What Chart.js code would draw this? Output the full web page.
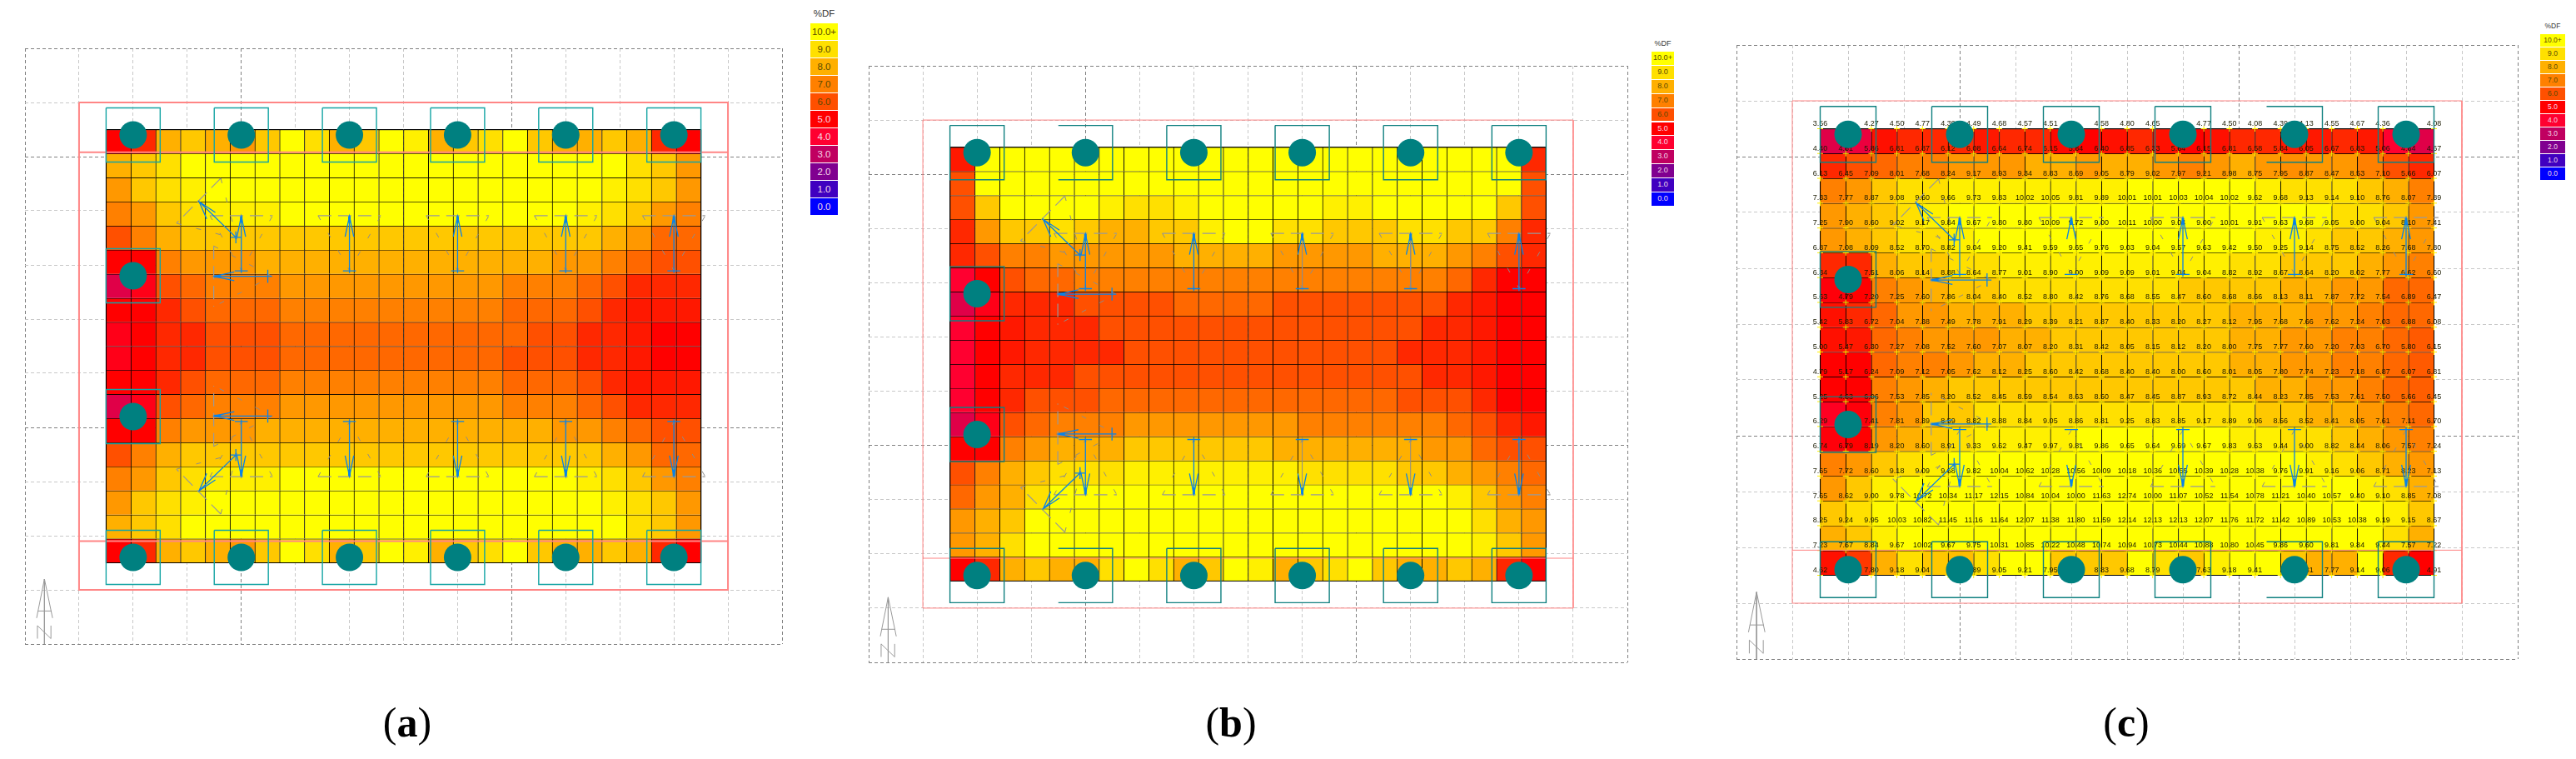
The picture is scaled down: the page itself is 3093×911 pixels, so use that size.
<!DOCTYPE html>
<html>
<head>
<meta charset="utf-8">
<title>Daylight factor plans</title>
<script src="https://cdn.jsdelivr.net/npm/chart.js@4"></script>
<style>
    html, body { margin: 0; padding: 0; background: #fff; }
    body { position: relative; width: 3093px; height: 911px; overflow: hidden; }
    canvas { position: absolute; }
    .swatch { position: absolute; text-align: center; font-family: "Liberation Sans", sans-serif; }
    .legend-title { position: absolute; text-align: center; font-family: "Liberation Sans", sans-serif; color: #333; }
    .caption { position: absolute; top: 838px; width: 120px; text-align: center; font: 50px "Liberation Serif", serif; color: #000; }
</style>
</head>
<body>
<script>
// legend
const scaleLevels = [10, 9, 8, 7, 6, 5, 4, 3, 2, 1, 0];
const scaleLabels = ["10.0+", "9.0", "8.0", "7.0", "6.0", "5.0", "4.0", "3.0", "2.0", "1.0", "0.0"];
const scaleColors = ["#ffff00", "#ffe000", "#ffb000", "#ff8000", "#ff5000", "#ff0000", "#ff0030", "#c00060", "#800090", "#4000c0", "#0000ff"];

const cellsA = [
    [5,5.5,8,8.5,8,7.5,8.5,10,9,8,8.5,10,9.5,8,8.5,9,10,8.5,8,8,8.5,8,5.5,5],
    [8,8.5,9,10,10,10,10,10,10,10,10,10,10,10,10,10,10,10,10,10,10,9,8.5,7.5],
    [7.5,8.5,9,9.5,10,10,10,10,10,10,10,10,10,10,10,10,10,10,10,10,9.5,9,8.5,7.5],
    [7,7.5,8.5,9,9.5,9.5,9.5,10,10,10,10,10,10,10,10,10,10,10,10,9.5,9,8.5,7.5,7],
    [6,7,8,8.5,8.5,8.5,8.5,8.5,8.5,8.5,8.5,8.5,8.5,8.5,8.5,8.5,8.5,8.5,8.5,8.5,8,7.5,6.5,6.5],
    [5,5,7,7.5,7.5,7.5,8,8,8,8,8,8,8,8,8,8,8,8,7.5,7.5,7,6.5,6,6],
    [3.5,4.5,6,6.5,7,7,7,7.5,7.5,7.5,7.5,7.5,7.5,7.5,7.5,7.5,7,7,7,6.5,6,5.5,5.5,5.5],
    [5,5,5.5,6,6.5,6.5,6.5,7,7,7,7,7,7,7,7,7,6.5,6.5,6.5,6,5.5,5.3,5.3,5.3],
    [4.5,5,5.5,5.5,6,6,6,6.5,6.5,6.5,6.5,6.5,6.5,6.5,6.5,6.5,6.5,6,6,5.5,5.5,5.3,5,5],
    [4.5,5,5.5,5.5,6,6,6,6.5,6.5,6.5,6.5,6.5,6.5,6.5,6.5,6.5,6,6,6,5.5,5.5,5.3,5,5],
    [5,5,5.5,6,6.5,6.5,6.5,7,7,7,7,7,7,7,7,7,6.5,6.5,6.5,6,5.5,5.3,5.3,5.3],
    [3.5,4.5,6,6.5,7,7,7,7.5,7.5,7.5,7.5,7.5,7.5,7.5,7.5,7.5,7,7,7,6.5,6,5.5,5.5,5.5],
    [5,5,7,7.5,7.5,7.5,8,8,8,8,8,8,8,8,8,8,8,8,7.5,7.5,7,6.5,6,6],
    [6,7,8,8.5,8.5,8.5,8.5,8.5,8.5,8.5,8.5,8.5,8.5,8.5,8.5,8.5,8.5,8.5,8.5,8.5,8,7.5,6.5,6.5],
    [7,7.5,8.5,9,9.5,9.5,9.5,10,10,10,10,10,10,10,10,10,10,10,10,9.5,9,8.5,7.5,7],
    [7.5,8.5,9,9.5,10,10,10,10,10,10,10,10,10,10,10,10,10,10,10,10,9.5,9,8.5,7.5],
    [8,8.5,9,10,10,10,10,10,10,10,10,10,10,10,10,10,10,10,10,10,10,9,8.5,7.5],
    [5,5.5,8,8.5,8,7.5,8.5,10,9,8,8.5,10,9.5,8,8.5,9,10,8.5,8,8,8.5,8,5.5,5]
];

const cellsB = [
    [5.3,10,10,10,10,10,10,10,10,10,10,10,10,10,10,10,10,10,10,10,10,10,10,5.5],
    [6,10,10,10,10,10,10,10,10,10,10,10,10,10,10,10,10,10,10,10,10,10,10,6],
    [6,8.5,10,10,10,10,9.5,9,9,9.5,10,10,10,10,10,9.5,9.5,10,10,10,10,10,8.5,6],
    [5.5,7.5,8.5,8.5,9,8.5,8,8,8.5,8.5,9.5,10,10,9,9,8.5,8.5,8.5,9,9,8.5,8.5,7,5.5],
    [5.5,6,7,7,7.5,7.5,7.5,7.5,7.5,8,8,8,8,7.5,7.5,7.5,7.5,8,8,8,7.5,7,6,5.5],
    [4,5,6,6.5,6.5,7,7,7,7,7,7,7,7,7,7,7,7,7,7,7,6.5,5.5,5,5],
    [3.5,4.5,5.5,5.5,5.5,6,6,6,6,6.5,6.5,6.5,6.5,6,6,6,6,6,6,6,5.5,5.3,5,5],
    [4,5,5.3,5.5,5.5,5.5,6,6,6,6,6,6,6,6,6,6,6,6,6,5.5,5.5,5.3,5,5],
    [4,5,5.3,5.5,5.5,5.5,5.5,6,6,6,6,6,6,6,6,6,6,6,5.5,5.5,5.5,5.3,5,5],
    [4,5,5.5,5.5,5.5,6,6,6,6,6,6,6,6,6,6,6,6,6,6,5.5,5.5,5.3,5,5],
    [4,5,5.5,6,6,6,6.5,6.5,6.5,6.5,6.5,6.5,6.5,6.5,6.5,6.5,6.5,6.5,6,6,6,5.5,5,5],
    [3.5,4.5,6,6.5,7,7,7,7.5,7.5,7.5,7.5,7.5,7.5,7.5,7,7,7,7,7,7,6.5,6,5.5,5.3],
    [5,5,7,7.5,8,8,8,8.5,8.5,8.5,8.5,8.5,8.5,8,8,8,8,8,8,7.5,7.5,6.5,6,6],
    [6,7,8,8.5,9,9,9,9.5,9.5,9.5,9.5,9.5,9.5,9.5,9,9,9,9,8.5,8.5,8,7.5,7,6.5],
    [6.5,7.5,8,9,10,10,10,10,10,10,10,10,10,10,10,10,10,10,10,10,9.5,8.5,7.5,7],
    [7.5,8,8.5,10,10,10,10,10,10,10,10,10,10,10,10,10,10,10,10,10,10,9,8,7.5],
    [7.5,8,9,10,10,10,10,10,10,10,10,10,10,10,10,10,10,10,10,10,10,9.5,8.5,7.5],
    [5,5.5,8,8.5,8,8,9,10,9,8,8.5,10,9.5,8,8.5,9,10,8.5,8,8,8.5,8,5.5,5]
];

const cellsC = [
    [3.5,3.7,5.2,5.5,5.5,5.5,5.3,5.5,5.5,5.1,5,5.2,5.5,5.2,5,5.2,5.5,5.5,5.3,5.3,5.5,5.3,4,3.5],
    [5.5,6,6.5,7,7,7.5,7.5,7.5,8,8,7.5,8,8,7.5,7,7.5,8,7.5,7.3,7.5,7.5,7,6,5.5],
    [7,7.5,8.5,9,9,9.5,9.5,9.5,9.5,9.5,9.5,9.5,10,10,10,10,10,9.5,9,9,9,8.5,8,7],
    [7.5,8,8.5,9,9.5,10,10,10,10,10,10,10,10,10,10,10,10,10,10,9.8,9,9,8.5,7.5],
    [7.5,8,8.5,9,9,9.5,10,10,10,10,10,10,10,10,10,10,10,9.5,9.5,9,8.5,8.5,8,7.5],
    [5.5,5.5,8,8.5,8.5,9,9,9.5,9.5,9.5,9.5,9.5,9.5,9.5,9.5,9.5,9,9,8.5,8.5,8.5,8,7.5,7],
    [4.8,5,7,7.5,8,8.5,8.5,9,9,9,9,9,9,9,8.5,8.5,8.5,8.5,8,8,7.5,7.5,6.5,6.5],
    [5.2,5.5,6.5,7.5,7.5,8,8,8,8.5,8.5,8.5,8.5,8.5,8.5,8.5,8.5,8,8,8,7.5,7.5,7,6.5,6.5],
    [5.2,5.3,6.5,7,7.5,7.5,7.5,8,8,8.5,8.5,8.5,8.5,8.5,8.5,8.5,8,8,7.5,7.5,7,7,6.5,6.2],
    [5,5,6.5,7,7,7.5,8,8,8.5,8.5,8.5,8.5,8.5,8.5,8.5,8.5,8,8,7.5,7.5,7,7,6.5,6.2],
    [5,5,7,7.5,8,8.5,8.5,8.5,8.5,8.5,8.5,8.5,8.5,8.5,8.5,8.5,8.5,8,8,7.5,7.5,7,6.5,6.3],
    [4.3,4.8,7,7.5,8.5,8.5,9,9,9,9,9,9,9,9,9,9,9,8.5,8.5,8,8,7.5,7,6.5],
    [4.8,5,7.5,8,8.5,9,9.5,9.5,9.5,9.5,10,10,10,10,10,10,9.5,9.5,9,9,8.5,8,7.5,7],
    [7,7.5,8.5,9,9.5,10,10,10,10,10,10,10,10,10,10,10,10,10,10,9.5,9,8.5,8,7.5],
    [7.5,8.5,9.5,10,10,10,10,10,10,10,10,10,10,10,10,10,10,10,10,10,10,9.5,9,8],
    [8.5,9,9.8,10,10,10,10,10,10,10,10,10,10,10,10,10,10,10,10,10,10,10,9.5,8.5],
    [8,8.5,9.5,10,10,10,10,10,10,10,10,10,10,10,10,10,10,10,10,10,10,10,9,8],
    [5.2,5.7,8,9,8.5,8.3,9,10,10,8.5,8.5,8.5,10,9,8.5,9.5,10,10,8.5,8,8,10,5.5,5]
];

// values printed on the grid nodes of plan (c); null where a column covers the number
const nodeValuesC = [
    ["3.56",null,"4.27","4.50","4.77","4.39","4.49","4.68","4.57","4.51",null,"4.58","4.80","4.65",null,"4.77","4.50","4.08","4.39","4.13","4.55","4.67","4.36",null,"4.08"],
    ["4.40","4.61","5.86","6.81","6.87","6.12","6.08","6.64","6.74","6.15","5.84","6.40","6.85","6.33","5.64","6.15","6.81","6.58","5.84","6.05","6.67","6.83","5.06","4.84","4.67"],
    ["6.13","6.45","7.09","8.01","7.68","8.24","9.17","8.93","9.34","8.83","8.69","9.05","8.79","9.02","7.97","9.21","8.98","8.75","7.95","8.87","8.47","8.53","7.10","5.66","6.07"],
    ["7.33","7.77","8.87","9.08","9.60","9.66","9.73","9.83","10.02","10.05","9.81","9.89","10.01","10.01","10.03","10.04","10.02","9.62","9.68","9.13","9.14","9.10","8.76","8.07","7.89"],
    ["7.25","7.90","8.60","9.02","9.17","9.84","9.67","9.80","9.80","10.09","9.72","9.00","10.11","10.00","9.04","9.00","10.01","9.91","9.63","9.68","9.05","9.00","9.04","8.10","7.41"],
    ["6.87","7.08","8.09","8.52","8.70","8.82","9.04","9.20","9.41","9.59","9.65","9.76","9.03","9.04","9.57","9.63","9.42","9.50","9.25","9.14","8.75","8.52","8.26","7.68","7.80"],
    ["6.34",null,"7.51","8.06","8.14","8.88","8.64","8.77","9.01","8.90","9.00","9.09","9.09","9.01","9.04","9.04","8.82","8.92","8.67","8.64","8.20","8.02","7.77","6.62","6.60"],
    ["5.63","4.79","7.20","7.25","7.60","7.86","8.04","8.40","8.52","8.80","8.42","8.76","8.68","8.55","8.47","8.60","8.68","8.66","8.13","8.11","7.87","7.72","7.54","6.89","6.47"],
    ["5.42","5.83","6.72","7.04","7.38","7.49","7.78","7.91","8.29","8.39","8.21","8.87","8.40","8.33","8.20","8.27","8.12","7.95","7.68","7.66","7.62","7.24","7.03","6.88","6.08"],
    ["5.00","5.47","6.30","7.27","7.08","7.52","7.60","7.07","8.07","8.20","8.31","8.42","8.05","8.15","8.12","8.20","8.00","7.75","7.77","7.60","7.20","7.03","6.70","5.80","6.15"],
    ["4.79","5.17","6.24","7.09","7.12","7.05","7.62","8.12","8.25","8.60","8.42","8.68","8.40","8.40","8.00","8.60","8.01","8.05","7.80","7.74","7.23","7.18","6.87","6.07","6.81"],
    ["5.25","4.63","6.06","7.53","7.85","8.20","8.52","8.45","8.59","8.54","8.63","8.50","8.47","8.45","8.87","8.93","8.72","8.44","8.23","7.85","7.53","7.61","7.50","5.66","6.45"],
    ["6.29",null,"7.41","7.81","8.39","8.59","8.82","8.88","8.84","9.05","8.86","8.81","9.25","8.83","8.85","9.17","8.89","9.06","8.56","8.52","8.41","8.05","7.61","7.11","6.70"],
    ["6.74","6.79","8.19","8.20","8.60","8.91","9.33","9.62","9.47","9.97","9.81","9.86","9.65","9.64","9.69","9.67","9.83","9.63","9.44","9.00","8.82","8.44","8.06","7.57","7.24"],
    ["7.65","7.72","8.60","9.18","9.09","9.68","9.82","10.04","10.62","10.28","10.56","10.09","10.18","10.36","10.55","10.39","10.28","10.38","9.76","9.91","9.16","9.06","8.71","8.23","7.13"],
    ["7.65","8.62","9.00","9.78","10.72","10.34","11.17","12.15","10.84","10.04","10.00","11.63","12.74","10.00","11.07","10.52","11.54","10.78","11.21","10.40","10.57","9.40","9.10","8.85","7.08"],
    ["8.25","9.24","9.95","10.03","10.82","11.45","11.16","11.64","12.07","11.38","11.80","11.59","12.14","12.13","12.13","12.07","11.76","11.72","11.42","10.89","10.53","10.38","9.19","9.15","8.67"],
    ["7.23","7.67","8.84","9.67","10.02","9.67","9.75","10.31","10.85","10.22","10.48","10.74","10.94","10.73","10.44","10.88","10.80","10.45","9.86","9.60","9.81","9.84","9.44","7.57","7.22"],
    ["4.62",null,"7.80","9.18","9.04",null,"9.89","9.05","9.21","7.95",null,"8.83","9.68","8.79",null,"7.63","9.18","9.41",null,"7.81","7.77","9.14","9.06",null,"4.91"]
];

// plan geometry in grid units, y grows to the south
const gridWidth = 14;
const gridHeight = 11;
const majorX = [0, 4, 9, 14];
const majorY = [0, 2, 7, 11];
const heatLeft = 1.5, heatRight = 12.5, heatTop = 1.5, heatBottom = 9.5;
const columnX = [2, 4, 6, 8, 10, 12];
const sideColumnY = [4.2, 6.8];
const northColumnY = 1.6, southColumnY = 9.4;
const arrowX = [4, 6, 8, 10, 12];

const panels = [
    { cells: cellsA, left: 30, top: 58, width: 909, height: 715, pinkWidth: 2, pinkY: [1.92, 9.1], boxColor: "#14a4a4",
      openBoxes: [], noShaft: [], greyShaft: [], caption: "a", captionX: 489,
      legend: { left: 973, top: 28.3, w: 33, pitch: 21, font: 11.5, titleTop: 10 } },
    { cells: cellsB, left: 1042.5, top: 79, width: 911, height: 716, pinkWidth: 1, pinkY: [9.08], boxColor: "#108080",
      openBoxes: [4], noShaft: [], greyShaft: [8, 10], caption: "b", captionX: 1478,
      legend: { left: 1983, top: 62, w: 27, pitch: 16.9, font: 9, titleTop: 47 } },
    { cells: cellsC, left: 2085, top: 54, width: 938, height: 737, pinkWidth: 1, pinkY: [9.05], boxColor: "#108080",
      openBoxes: [10], noShaft: [6], greyShaft: [], nodes: nodeValuesC, caption: "c", captionX: 2553,
      legend: { left: 3050, top: 41, w: 30, pitch: 16, font: 8.5, titleTop: 26 } }
];

function hexToRgb(hex) {
    return [1, 3, 5].map((i) => parseInt(hex.slice(i, i + 2), 16));
}

function levelColor(value) {
    const v = Math.max(0, Math.min(10, value));
    const low = Math.floor(v);
    const high = Math.ceil(v);
    const a = hexToRgb(scaleColors[10 - low]);
    const b = hexToRgb(scaleColors[10 - high]);
    const t = v - low;
    const mixed = a.map((c, i) => Math.round(c + (b[i] - c) * t));
    return `rgb(${mixed[0]}, ${mixed[1]}, ${mixed[2]})`;
}

// joins polylines into one dataset, a null point breaks the line
function flatten(polylines) {
    const out = [];
    polylines.forEach((line) => {
        line.forEach(([x, y]) => out.push({ x, y }));
        out.push({ x: null, y: null });
    });
    return out;
}

function lineSet(polylines, color, width, order, dash) {
    return {
        type: "line",
        data: flatten(polylines),
        borderColor: color,
        borderWidth: width,
        borderDash: dash || [],
        pointRadius: 0,
        fill: false,
        tension: 0,
        spanGaps: false,
        order
    };
}

function boxLines(cx, cy, open) {
    const l = cx - 0.5, r = cx + 0.5, t = cy - 0.5, b = cy + 0.5;
    if (open) {
        return [[[l, t], [r, t], [r, b], [l, b]]];
    }
    return [[[l, t], [r, t], [r, b], [l, b], [l, t]]];
}

function mirrored(polylines) {
    return polylines.map((line) => line.map(([x, y]) => [x, gridHeight - y]));
}

function bothEnds(polylines) {
    return polylines.concat(mirrored(polylines));
}

function arrowLines(panel) {
    const lines = [];
    arrowX.forEach((x) => {
        if (!panel.noShaft.includes(x) && !panel.greyShaft.includes(x)) lines.push([[x, 3.1], [x, 4.15]]);
        lines.push([[x - 0.08, 3.48], [x, 3.1], [x + 0.08, 3.48]]);
        lines.push([[x - 0.12, 4.11], [x + 0.12, 4.11]]);
    });
    lines.push([[3.5, 4.21], [4.57, 4.21]]);
    lines.push([[3.87, 4.13], [3.5, 4.21], [3.87, 4.29]]);
    lines.push([[4.49, 4.09], [4.49, 4.33]]);
    lines.push([[3.22, 2.83], [3.9, 3.49]]);
    lines.push([[3.52, 3.03], [3.22, 2.83], [3.36, 3.15]]);
    lines.push([[3.8, 3.49], [4, 3.49]]);
    lines.push([[3.9, 3.38], [3.9, 3.6]]);
    return bothEnds(lines);
}

function greyShaftLines(panel) {
    return bothEnds(panel.greyShaft.map((x) => [[x, 3.1], [x, 4.15]]));
}

function arrowTips() {
    const lines = arrowX.map((x) => [[x, 3.1], [x, 3.22]]);
    lines.push([[3.5, 4.21], [3.62, 4.21]]);
    return bothEnds(lines);
}

function triangleLong() {
    const lines = arrowX.map((x) => [[x - 0.58, 3.09], [x + 0.58, 3.09]]);
    lines.push([[3.49, 3.65], [3.49, 4.77]]);
    lines.push([[3.62, 2.4], [2.8, 3.23]]);
    return bothEnds(lines);
}

function triangleShort() {
    const lines = arrowX.map((x) => [[x - 0.58, 3.09], [x, 4.1], [x + 0.58, 3.09]]);
    lines.push([[3.49, 3.65], [4.57, 4.21], [3.49, 4.77]]);
    lines.push([[3.62, 2.4], [3.92, 3.52], [2.8, 3.23]]);
    return bothEnds(lines);
}

function northLines() {
    return [
        [[0.36, 9.8], [0.36, 11]],
        [[0.215, 10.52], [0.36, 9.8], [0.51, 10.52]],
        [[0.24, 10.39], [0.49, 10.39]],
        [[0.23, 10.9], [0.23, 10.66], [0.48, 10.9], [0.48, 10.66]]
    ];
}

// one stacked dataset per row of cells, the first one only pushes the stack down to the plan
function cellDatasets(cells) {
    const cols = cells[0].length;
    const rowHeight = (heatBottom - heatTop) / cells.length;
    const cellWidth = (heatRight - heatLeft) / cols;
    const xs = cells[0].map((_, i) => heatLeft + cellWidth * (i + 0.5));
    const sets = [{
        type: "bar",
        stack: "cells",
        data: xs.map((x) => ({ x, y: heatTop })),
        backgroundColor: "rgba(0, 0, 0, 0)",
        borderWidth: 0,
        barPercentage: 1,
        categoryPercentage: 1,
        order: 60
    }];
    cells.forEach((row) => {
        sets.push({
            type: "bar",
            stack: "cells",
            data: xs.map((x) => ({ x, y: rowHeight })),
            backgroundColor: row.map(levelColor),
            borderColor: "#000",
            borderWidth: { top: 1, left: 1, right: 0, bottom: 0 },
            borderSkipped: false,
            barPercentage: 1,
            categoryPercentage: 1,
            order: 60
        });
    });
    return sets;
}

function nodeDataset(nodes) {
    const data = [];
    nodes.forEach((row, r) => {
        row.forEach((_, c) => {
            data.push({
                x: heatLeft + (heatRight - heatLeft) * c / (row.length - 1),
                y: heatTop + (heatBottom - heatTop) * r / (nodes.length - 1)
            });
        });
    });
    return {
        type: "line",
        label: "nodes",
        data,
        showLine: false,
        pointStyle: "cross",
        pointRadius: 3.5,
        pointBorderColor: "#ffee00",
        pointBorderWidth: 1,
        order: 50
    };
}

// draws the node numbers right after the node markers, so the columns still cover them
const nodeTextPlugin = {
    id: "nodeText",
    afterDatasetDraw(chart, args) {
        const nodes = chart.config.options.nodeTexts;
        if (!nodes || chart.data.datasets[args.index].label !== "nodes") return;
        const { ctx, scales } = chart;
        const points = chart.data.datasets[args.index].data;
        ctx.save();
        ctx.font = '9px "Liberation Sans", sans-serif';
        ctx.textAlign = "center";
        ctx.textBaseline = "middle";
        ctx.fillStyle = "#1a1a00";
        nodes.flat().forEach((text, i) => {
            if (text === null) return;
            ctx.fillText(text, scales.x.getPixelForValue(points[i].x), scales.y.getPixelForValue(points[i].y) - 6);
        });
        ctx.restore();
    }
};

function gridOptions(max, major) {
    return {
        type: "linear",
        min: 0,
        max,
        offset: false,
        ticks: { display: false, stepSize: 1 },
        border: { display: false, dash: [4, 3], color: "#808080" },
        grid: {
            offset: false,
            drawTicks: false,
            lineWidth: 1,
            color: (ctx) => (ctx.tick && major.includes(ctx.tick.value)) ? "#808080" : "#c8c8c8"
        }
    };
}

function drawPanel(panel) {
    const pad = 3;
    const canvas = document.createElement("canvas");
    canvas.width = panel.width + pad * 2;
    canvas.height = panel.height + pad * 2;
    canvas.style.left = (panel.left - pad) + "px";
    canvas.style.top = (panel.top - pad) + "px";
    canvas.style.width = canvas.width + "px";
    canvas.style.height = canvas.height + "px";
    document.body.appendChild(canvas);

    const boxes = [];
    columnX.forEach((x) => {
        const open = panel.openBoxes.includes(x);
        boxes.push(...boxLines(x, northColumnY, open), ...boxLines(x, southColumnY, open));
    });
    sideColumnY.forEach((y) => boxes.push(...boxLines(2, y, false)));

    const circles = [];
    columnX.forEach((x) => {
        circles.push({ x, y: northColumnY }, { x, y: southColumnY });
    });
    sideColumnY.forEach((y) => circles.push({ x: 2, y }));

    const pinkLines = [[[1, 1], [13, 1], [13, 10], [1, 10], [1, 1]]];
    panel.pinkY.forEach((y) => pinkLines.push([[1, y], [13, y]]));

    const datasets = cellDatasets(panel.cells);
    datasets.push(lineSet([[[heatLeft, heatTop], [heatRight, heatTop], [heatRight, heatBottom], [heatLeft, heatBottom], [heatLeft, heatTop]]], "#000", 1, 55));
    if (panel.nodes) datasets.push(nodeDataset(panel.nodes));
    datasets.push(lineSet(triangleLong(), "#999999", 1.2, 40, [16, 8]));
    datasets.push(lineSet(triangleShort(), "#8c8c8c", 1, 39, [6, 18]));
    datasets.push(lineSet(pinkLines, "#ff8585", panel.pinkWidth, 35));
    datasets.push(lineSet(greyShaftLines(panel), "#8c8c8c", 1, 31));
    datasets.push(lineSet(arrowLines(panel), "#0a82e6", 1.3, 30));
    datasets.push(lineSet(arrowTips(), "#0a82e6", 3, 29));
    datasets.push(lineSet(northLines(), "#999999", 1, 28));
    datasets.push(lineSet(boxes, panel.boxColor, 1.4, 20));
    datasets.push({
        type: "line",
        data: circles,
        showLine: false,
        pointStyle: "circle",
        pointRadius: 16.5,
        pointBackgroundColor: "#008080",
        pointBorderWidth: 0,
        order: 10
    });

    new Chart(canvas, {
        data: { datasets },
        plugins: [nodeTextPlugin],
        options: {
            responsive: false,
            animation: false,
            events: [],
            devicePixelRatio: 1,
            nodeTexts: panel.nodes || null,
            layout: { padding: pad, autoPadding: false },
            plugins: { legend: { display: false }, tooltip: { enabled: false } },
            scales: {
                x: gridOptions(gridWidth, majorX),
                y: Object.assign(gridOptions(gridHeight, majorY), { reverse: true })
            }
        }
    });
}

function drawLegend(panel) {
    const lg = panel.legend;
    const title = document.createElement("div");
    title.className = "legend-title";
    title.textContent = "%DF";
    title.style.left = lg.left + "px";
    title.style.width = lg.w + "px";
    title.style.top = lg.titleTop + "px";
    title.style.fontSize = lg.font + "px";
    document.body.appendChild(title);
    scaleLevels.forEach((level, i) => {
        const s = document.createElement("div");
        s.className = "swatch";
        s.textContent = scaleLabels[i];
        s.style.left = lg.left + "px";
        s.style.top = (lg.top + lg.pitch * i) + "px";
        s.style.width = lg.w + "px";
        s.style.height = (lg.pitch - 1) + "px";
        s.style.lineHeight = (lg.pitch - 1) + "px";
        s.style.fontSize = lg.font + "px";
        s.style.whiteSpace = "nowrap";
        s.style.background = scaleColors[i];
        s.style.color = level >= 6 ? "#5a4a00" : "#f4d8e8";
        document.body.appendChild(s);
    });
}

panels.forEach((panel) => {
    drawPanel(panel);
    drawLegend(panel);
    const cap = document.createElement("div");
    cap.className = "caption";
    cap.style.left = (panel.captionX - 60) + "px";
    cap.innerHTML = `(<b>${panel.caption}</b>)`;
    document.body.appendChild(cap);
});
</script>
</body>
</html>
